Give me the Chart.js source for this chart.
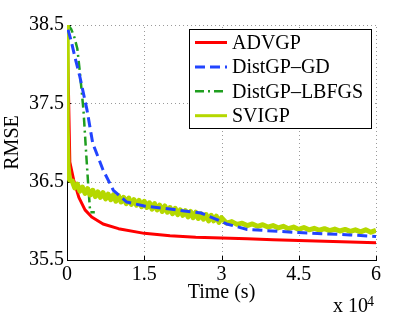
<!DOCTYPE html>
<html>
<head>
<meta charset="utf-8">
<script src="https://cdn.jsdelivr.net/npm/chart.js@4.4.0/dist/chart.umd.min.js"></script>
<style>
  body { margin: 0; background: #fff; }
  canvas { display: block; }
</style>
</head>
<body>
<canvas id="myChart" width="415" height="312"></canvas>
<script>
// time in units of 1e4 s
const advgpTime = [0, 0.03, 0.055, 0.13, 0.23, 0.35, 0.48, 0.7, 1.0, 1.5, 2.0, 2.5, 3.0, 3.5, 4.0, 4.5, 5.0, 5.5, 6.0];
const advgpRmse = [38.5, 37.6, 36.75, 36.52, 36.3, 36.14, 36.05, 35.96, 35.9, 35.84, 35.81, 35.79, 35.78, 35.77, 35.76, 35.75, 35.74, 35.73, 35.72];

const gdTime = [0.02, 0.08, 0.15, 0.25, 0.39, 0.5, 0.7, 0.9, 1.16, 1.5, 2.0, 2.6, 2.9, 3.1, 3.5, 4.5, 5.5, 6.0];
const gdRmse = [38.44, 38.3, 38.1, 37.84, 37.41, 36.99, 36.65, 36.39, 36.24, 36.19, 36.15, 36.1, 36.02, 35.96, 35.89, 35.85, 35.82, 35.8];

const lbfgsTime = [0.02, 0.08, 0.14, 0.2, 0.25, 0.32, 0.38, 0.41, 0.45, 0.54];
const lbfgsRmse = [38.5, 38.45, 38.35, 38.2, 37.9, 37.41, 36.78, 36.48, 36.11, 36.11];

const svigpTime = [0, 0.005, 0.02, 0.05,
  0.10, 0.15, 0.20, 0.25, 0.30, 0.35, 0.40, 0.45, 0.50, 0.55,
  0.60, 0.65, 0.70, 0.75, 0.80, 0.85, 0.90, 0.95, 1.00, 1.05,
  1.10, 1.15, 1.20, 1.25, 1.30, 1.35, 1.40, 1.45, 1.50, 1.55,
  1.60, 1.65, 1.70, 1.75, 1.80, 1.85, 1.90, 1.95, 2.00, 2.05,
  2.10, 2.15, 2.20, 2.25, 2.30, 2.35, 2.40, 2.45, 2.50, 2.55,
  2.60, 2.65, 2.70, 2.75, 2.80, 2.85, 2.90, 2.95, 3.00,
  3.1, 3.2, 3.3, 3.4, 3.5, 3.6, 3.7, 3.8, 3.9, 4.0,
  4.1, 4.2, 4.3, 4.4, 4.5, 4.6, 4.7, 4.8, 4.9, 5.0,
  5.1, 5.2, 5.3, 5.4, 5.5, 5.6, 5.7, 5.8, 5.9, 6.0];
const svigpRmse = [38.5, 37.2, 36.7, 36.52,
  36.51, 36.42, 36.47, 36.38, 36.43, 36.35, 36.41, 36.33, 36.39, 36.31,
  36.37, 36.30, 36.36, 36.28, 36.34, 36.27, 36.33, 36.25, 36.32, 36.24,
  36.30, 36.22, 36.29, 36.21, 36.27, 36.20, 36.26, 36.18, 36.25, 36.17,
  36.23, 36.15, 36.22, 36.14, 36.20, 36.12, 36.19, 36.11, 36.17, 36.09,
  36.16, 36.08, 36.14, 36.07, 36.13, 36.05, 36.12, 36.04, 36.11, 36.03,
  36.09, 36.02, 36.08, 36.00, 36.07, 36.00, 36.06, 35.98, 36.04,
  35.97, 35.99, 35.955, 35.97, 35.94, 35.96, 35.93, 35.95, 35.92, 35.94,
  35.91, 35.93, 35.90, 35.92, 35.89, 35.915, 35.885, 35.905, 35.88, 35.90,
  35.875, 35.895, 35.87, 35.89, 35.865, 35.885, 35.86, 35.885, 35.855, 35.88];

const xTickValues = [0, 1.5, 3, 4.5, 6];
const yTickValues = [35.5, 36.5, 37.5, 38.5];

const serif = "'Liberation Serif', 'Times New Roman', serif";

function points(xs, ys) {
  return xs.map((x, i) => ({ x: x, y: ys[i] }));
}

const datasets = [
  { label: "ADVGP", data: points(advgpTime, advgpRmse), borderColor: "#ff0000", borderWidth: 3, order: 4 },
  { label: "DistGP\u2013GD", data: points(gdTime, gdRmse), borderColor: "#2244ff", borderWidth: 3, borderDash: [10, 5], order: 1 },
  { label: "DistGP\u2013LBFGS", data: points(lbfgsTime, lbfgsRmse), borderColor: "#1f9e1f", borderWidth: 2.5, borderDash: [9, 4, 2, 4], order: 3 },
  { label: "SVIGP", data: points(svigpTime, svigpRmse), borderColor: "#b5d800", borderWidth: 5, order: 2 },
];

// dotted grid + inward tick marks, drawn from the scales
const dottedGrid = {
  id: "dottedGrid",
  beforeDatasetsDraw(chart) {
    const ctx = chart.ctx;
    const area = chart.chartArea;
    const xs = chart.scales.x, ys = chart.scales.y;
    ctx.save();
    ctx.lineWidth = 1;
    ctx.strokeStyle = "#9a9a9a";
    ctx.setLineDash([1, 3]);
    xTickValues.forEach(v => {
      if (v === xs.min) return;
      const px = Math.round(xs.getPixelForValue(v)) + 0.5;
      ctx.beginPath();
      ctx.moveTo(px, area.bottom);
      ctx.lineTo(px, area.top);
      ctx.stroke();
    });
    yTickValues.forEach(v => {
      if (v === ys.min) return;
      const py = Math.round(ys.getPixelForValue(v)) + 0.5;
      ctx.beginPath();
      ctx.moveTo(area.left, py);
      ctx.lineTo(area.right, py);
      ctx.stroke();
    });
    ctx.setLineDash([]);
    ctx.strokeStyle = "#000";
    xTickValues.forEach(v => {
      const px = Math.round(xs.getPixelForValue(v)) + 0.5;
      ctx.beginPath();
      ctx.moveTo(px, area.bottom);
      ctx.lineTo(px, area.bottom - 4);
      ctx.stroke();
    });
    yTickValues.forEach(v => {
      const py = Math.round(ys.getPixelForValue(v)) + 0.5;
      ctx.beginPath();
      ctx.moveTo(area.left, py);
      ctx.lineTo(area.left + 4, py);
      ctx.stroke();
    });
    ctx.restore();
  }
};

// legend drawn inside the plot, MATLAB style
const boxLegend = {
  id: "boxLegend",
  afterDraw(chart) {
    const ctx = chart.ctx;
    ctx.save();
    ctx.fillStyle = "#fff";
    ctx.fillRect(189.5, 29.5, 182, 99);
    ctx.strokeStyle = "#000";
    ctx.lineWidth = 1;
    ctx.setLineDash([]);
    ctx.strokeRect(189.5, 29.5, 182, 99);
    ctx.font = "20px " + serif;
    ctx.textBaseline = "middle";
    ctx.textAlign = "left";
    chart.data.datasets.forEach((ds, i) => {
      const y = 42.5 + i * 24.4;
      ctx.beginPath();
      ctx.strokeStyle = ds.borderColor;
      ctx.lineWidth = Math.min(ds.borderWidth, 3);
      ctx.setLineDash(ds.borderDash || []);
      ctx.moveTo(195, y);
      ctx.lineTo(227, y);
      ctx.stroke();
      ctx.setLineDash([]);
      ctx.fillStyle = "#000";
      ctx.fillText(ds.label, 232, y + 1);
    });
    // exponent label under the x axis
    ctx.textBaseline = "alphabetic";
    ctx.font = "20px " + serif;
    ctx.fillText("x 10", 333, 312);
    ctx.font = "14px " + serif;
    ctx.fillText("4", 367, 306);
    ctx.restore();
  }
};

new Chart(document.getElementById("myChart").getContext("2d"), {
  type: "line",
  data: { datasets: datasets },
  options: {
    responsive: false,
    animation: false,
    layout: { padding: { top: 25, right: 39, left: 0, bottom: 0 } },
    elements: { point: { radius: 0 }, line: { tension: 0, borderJoinStyle: "round", borderCapStyle: "butt" } },
    plugins: { legend: { display: false }, tooltip: { enabled: false } },
    scales: {
      x: {
        type: "linear",
        min: 0,
        max: 6,
        afterBuildTicks: (scale) => { scale.ticks = xTickValues.map(v => ({ value: v })); },
        afterFit: (scale) => { scale.height = 52; },
        grid: { display: false, drawTicks: false },
        border: { display: true, color: "#000", width: 1 },
        ticks: { color: "#000", padding: 3, maxRotation: 0, font: { family: serif, size: 20 }, callback: (v) => String(v) },
        title: { display: true, text: "Time (s)", color: "#000", font: { family: serif, size: 20 }, padding: { top: 0, bottom: 7 } }
      },
      y: {
        type: "linear",
        min: 35.5,
        max: 38.5,
        afterBuildTicks: (scale) => { scale.ticks = yTickValues.map(v => ({ value: v })); },
        afterFit: (scale) => { scale.width = 67; },
        grid: { display: false, drawTicks: false },
        border: { display: true, color: "#000", width: 1 },
        ticks: { color: "#000", padding: 3, font: { family: serif, size: 20 }, callback: (v) => String(v) },
        title: { display: true, text: "RMSE", color: "#000", font: { family: serif, size: 20 }, padding: { top: 1, bottom: 0 } }
      }
    }
  },
  plugins: [dottedGrid, boxLegend]
});
</script>
</body>
</html>
